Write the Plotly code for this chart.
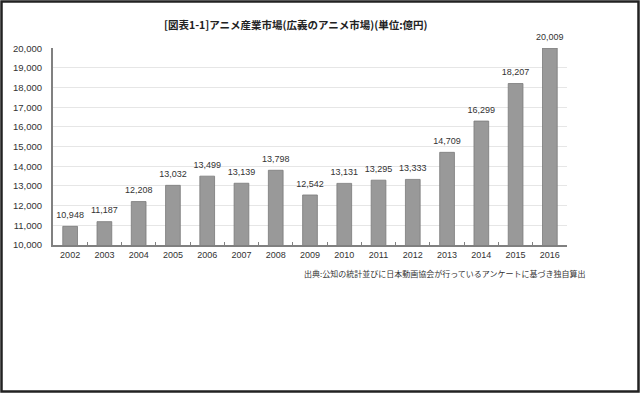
import plotly.graph_objects as go

years = ["2002", "2003", "2004", "2005", "2006", "2007", "2008", "2009",
         "2010", "2011", "2012", "2013", "2014", "2015", "2016"]
values = [10948, 11187, 12208, 13032, 13499, 13139, 13798, 12542,
          13131, 13295, 13333, 14709, 16299, 18207, 20009]
title_text = "[図表1-1]アニメ産業市場(広義のアニメ市場)(単位:億円)"
source_text = "出典:公知の統計並びに日本動画協会が行っているアンケートに基づき独自算出"

num_font = "Liberation Sans Narrow, Arial Narrow, Liberation Sans, sans-serif"
jp_font = "Noto Sans CJK JP, sans-serif"

fig = go.Figure()
fig.add_trace(go.Bar(
    x=years, y=values,
    marker=dict(color="#999999", line=dict(color="#7a7a7a", width=0.8)),
    hoverinfo="skip",
))
fig.add_trace(go.Scatter(
    x=years, y=values, mode="markers+text",
    marker=dict(size=8, color="rgba(0,0,0,0)"),
    text=[f"{v:,}" for v in values],
    textposition="top center",
    textfont=dict(family=num_font, size=9, color="#333333"),
    cliponaxis=False, hoverinfo="skip",
))

L, R, T, B = 53, 73, 48, 148
W, H = 640, 393
pw, ph = W - L - R, H - T - B

fig.update_layout(
    width=W, height=H,
    margin=dict(l=L, r=R, t=T, b=B),
    paper_bgcolor="white", plot_bgcolor="white",
    bargap=0.57,
    showlegend=False,
    annotations=[
        dict(text="<b>" + title_text + "</b>", xref="paper", yref="paper",
             x=(296 - L) / pw, y=(H - B - 24) / ph, xanchor="center", yanchor="middle",
             showarrow=False, font=dict(family=jp_font, size=10.5, color="#222222")),
        dict(text=source_text, xref="paper", yref="paper",
             x=(302 - L) / pw, y=(H - B - 273) / ph, xanchor="left", yanchor="middle",
             showarrow=False, font=dict(family=jp_font, size=8, color="#333333")),
    ],
    shapes=[
        dict(type="rect", xref="paper", yref="paper",
             x0=(1.5 - L) / pw, x1=(638.5 - L) / pw,
             y0=(H - B - 391.5) / ph, y1=(H - B - 1.5) / ph,
             line=dict(color="#222222", width=2.5), fillcolor="rgba(0,0,0,0)", layer="above"),
    ],
)

fig.update_yaxes(
    range=[10000, 20012], tickvals=list(range(10000, 20001, 1000)), tickformat=",",
    showgrid=True, gridcolor="#e6e6e6", gridwidth=1,
    showline=True, linecolor="#808080", linewidth=2,
    ticks="", ticklabelstandoff=7, automargin=False,
    tickfont=dict(family=num_font, size=9.5, color="#333333"),
    zeroline=False,
)
fig.update_xaxes(
    range=[-0.5, len(years) - 0.5],
    showline=True, linecolor="#808080", linewidth=2,
    ticks="inside", tickson="boundaries", ticklen=3, tickcolor="#808080",
    automargin=False,
    tickfont=dict(family=num_font, size=9, color="#333333"),
)

fig.write_html("out.html", config={"displayModeBar": False},
               post_script="document.body.style.margin='0';document.body.style.overflow='hidden';")
